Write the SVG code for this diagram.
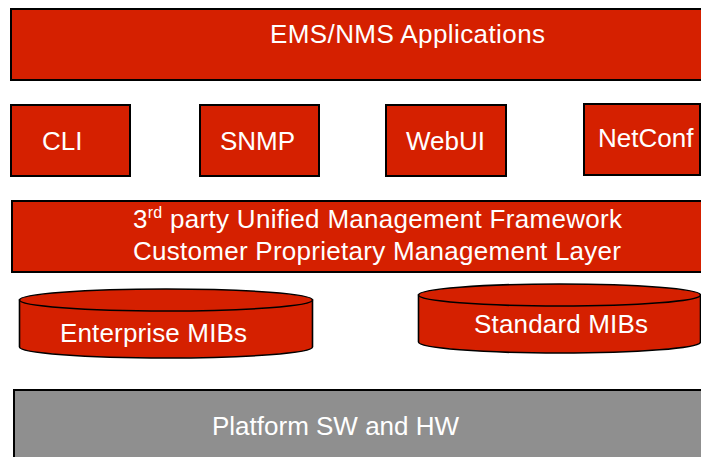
<svg xmlns="http://www.w3.org/2000/svg" width="701" height="457" viewBox="0 0 701 457">
<style>
.box{fill:#D52000;stroke:#000;stroke-width:2}
.gray{fill:#8F8F8F;stroke:#000;stroke-width:2}
.cyl{fill:#D52000;stroke:#000;stroke-width:1.6}
text{font-family:"Liberation Sans",Arial,sans-serif;font-size:26px;fill:#fff}
</style>
<rect width="701" height="457" fill="#fff"/>
<g id="ems"><rect class="box" x="11" y="9" width="700" height="71"/><text x="270" y="43" textLength="275">EMS/NMS Applications</text></g>
<g id="cli"><rect class="box" x="11" y="105" width="119" height="71"/><text x="42" y="150">CLI</text></g>
<g id="snmp"><rect class="box" x="200" y="105" width="119" height="71"/><text x="220" y="150">SNMP</text></g>
<g id="webui"><rect class="box" x="386" y="105" width="120" height="71"/><text x="406" y="150">WebUI</text></g>
<g id="netconf"><rect class="box" x="584" y="104" width="116" height="71"/><text x="598" y="147">NetConf</text></g>
<g id="framework"><rect class="box" x="12" y="201" width="700" height="71"/>
<text x="133" y="228" textLength="489">3<tspan font-size="16" dy="-10">rd</tspan><tspan dy="10"> party Unified Management Framework</tspan></text>
<text x="133" y="260" textLength="488">Customer Proprietary Management Layer</text></g>
<g id="enterprise"><path class="cyl" d="M19.5,300 L19.5,347 A146.5,11 0 0,0 312.5,347 L312.5,300 Z"/><ellipse class="cyl" cx="166" cy="300" rx="146.5" ry="11"/><text x="60" y="342" textLength="187">Enterprise MIBs</text></g>
<g id="standard"><path class="cyl" d="M418.5,295 L418.5,342 A141,11 0 0,0 700.5,342 L700.5,295 Z"/><ellipse class="cyl" cx="559.5" cy="295" rx="141" ry="11"/><text x="474" y="333" textLength="174">Standard MIBs</text></g>
<g id="platform"><rect class="gray" x="14" y="390" width="700" height="80"/><text x="212" y="435">Platform SW and HW</text></g>
<g id="connectors"></g>
</svg>
